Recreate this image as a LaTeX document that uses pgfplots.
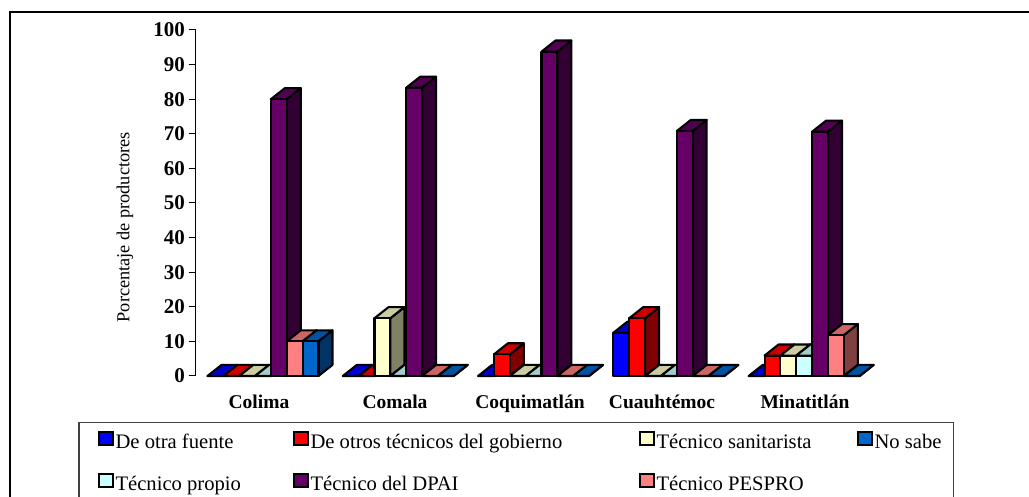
\documentclass[border=0pt]{standalone}
\usepackage{fontspec}
\setmainfont{Liberation Serif}
\usepackage{pgfplots}
\pgfplotsset{compat=1.18}

% front, top and side colours of each series
\definecolor{serA}{HTML}{0000FF}\definecolor{serAtop}{HTML}{0000CC}\definecolor{serAside}{HTML}{000080}
\definecolor{serB}{HTML}{FF0000}\definecolor{serBtop}{HTML}{CC0000}\definecolor{serBside}{HTML}{800000}
\definecolor{serC}{HTML}{FFFFCC}\definecolor{serCtop}{HTML}{CCCCA3}\definecolor{serCside}{HTML}{808066}
\definecolor{serD}{HTML}{CCFFFF}\definecolor{serDtop}{HTML}{A3CCCC}\definecolor{serDside}{HTML}{668080}
\definecolor{serE}{HTML}{660066}\definecolor{serEtop}{HTML}{520052}\definecolor{serEside}{HTML}{330033}
\definecolor{serF}{HTML}{FF8080}\definecolor{serFtop}{HTML}{CC6666}\definecolor{serFside}{HTML}{804040}
\definecolor{serG}{HTML}{0066CC}\definecolor{serGtop}{HTML}{0052A3}\definecolor{serGside}{HTML}{003366}

\pgfplotsset{bar3d/.style={forget plot,draw=black,line width=2.1pt,line join=round,mark=none}}

% #1 group start, #2 position in group, #3 value, #4 series colour
\newcommand{\barra}[4]{%
  \pgfmathsetmacro\xa{#1+#2*15.85}%
  \pgfmathsetmacro\xb{\xa+15.85}%
  \pgfmathsetmacro\xc{\xb+14}%
  \pgfmathsetmacro\xd{\xa+14}%
  \pgfmathsetmacro\vt{#3+3.2}%
  \addplot[bar3d,fill=#4side] coordinates {(\xb,0) (\xc,3.2) (\xc,\vt) (\xb,#3)} -- cycle;
  \addplot[bar3d,fill=#4top] coordinates {(\xa,#3) (\xb,#3) (\xc,\vt) (\xd,\vt)} -- cycle;
  \addplot[bar3d,fill=#4] coordinates {(\xa,0) (\xb,0) (\xb,#3) (\xa,#3)} -- cycle;
}
% one group of bars: start, then the seven values
\newcommand{\grupo}[8]{%
  \barra{#1}{0}{#2}{serA}\barra{#1}{1}{#3}{serB}\barra{#1}{2}{#4}{serC}\barra{#1}{3}{#5}{serD}%
  \barra{#1}{4}{#6}{serE}\barra{#1}{5}{#7}{serF}\barra{#1}{6}{#8}{serG}%
}

\begin{document}
\begin{tikzpicture}
\useasboundingbox (0,0) rectangle (1029pt,497pt);
\clip (0,0) rectangle (1029pt,497pt);
\draw[line width=2pt] (10pt,-5pt) -- (10pt,485pt) -- (1035pt,485pt);
\begin{axis}[
    at={(195.5pt,121pt)},
    anchor=south west,
    scale only axis,
    width=684.5pt,
    height=346pt,
    xmin=195.5, xmax=880,
    ymin=0, ymax=100,
    clip=false,
    axis y line*=left,
    axis x line*=bottom,
    x axis line style={draw=none},
    y axis line style={-,line width=1pt},
    xtick={259,395,530,662,805},
    xticklabels={Colima,Comala,Coquimatlán,Cuauhtémoc,Minatitlán},
    xtick style={draw=none},
    xticklabel style={font=\fontsize{19.5}{21}\selectfont\bfseries,yshift=-8pt},
    ytick={0,10,...,100},
    tick align=outside,
    ytick style={black,line width=1pt},
    major tick length=7pt,
    yticklabel style={font=\fontsize{21}{22}\selectfont\bfseries,/pgf/number format/assume math mode=true},
    ylabel={Porcentaje de productores},
    every axis y label/.style={at={(axis description cs:-0.103,0.43)},rotate=90,anchor=center,font=\fontsize{18.3}{20}\selectfont},
    legend columns=4,
    legend cell align=left,
    legend image code/.code={\draw[#1] (0pt,-3.5pt) rectangle (13.5pt,10pt);},
    legend style={
        at={(axis cs:78.5,-13.3)},anchor=north west,
        draw=black!75,line width=1.2pt,
        font=\fontsize{20.6}{22}\selectfont,
        inner xsep=19pt,inner ysep=8pt,
        row sep=21pt,
        /tikz/every even column/.append style={column sep=0pt},
    },
]
\grupo{207.5}{0}{0}{0}{0}{80}{10}{10}
\grupo{342.8}{0}{0}{16.7}{0}{83.3}{0}{0}
\grupo{478.1}{0}{6.25}{0}{0}{93.75}{0}{0}
\grupo{613.4}{12.5}{16.7}{0}{0}{70.8}{0}{0}
\grupo{748.7}{0}{5.9}{5.9}{5.9}{70.6}{11.8}{0}

\addlegendimage{draw=black,line width=2pt,fill=serA}
\addlegendentry{\makebox[175.5pt][l]{De otra fuente}}
\addlegendimage{draw=black,line width=2pt,fill=serB}
\addlegendentry{\makebox[326.5pt][l]{De otros técnicos del gobierno}}
\addlegendimage{draw=black,line width=2pt,fill=serC}
\addlegendentry{\makebox[198.5pt][l]{Técnico sanitarista}}
\addlegendimage{draw=black,line width=2pt,fill=serG}
\addlegendentry{\makebox[58pt][l]{No sabe}}
\addlegendimage{draw=black,line width=2pt,fill=serD}
\addlegendentry{Técnico propio\rule[-14pt]{0pt}{14pt}}
\addlegendimage{draw=black,line width=2pt,fill=serE}
\addlegendentry{Técnico del DPAI}
\addlegendimage{draw=black,line width=2pt,fill=serF}
\addlegendentry{Técnico PESPRO}
\end{axis}
\end{tikzpicture}
\end{document}
